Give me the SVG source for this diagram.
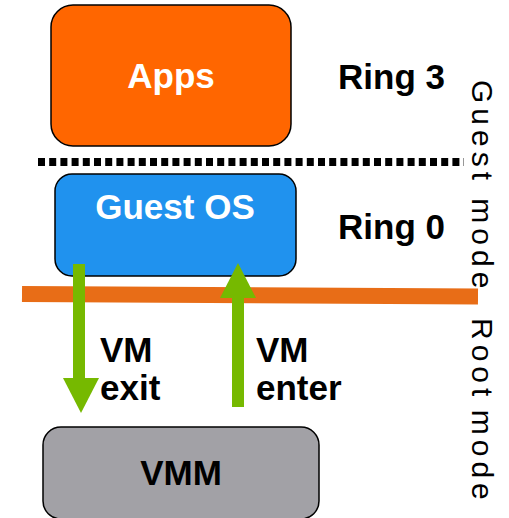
<svg xmlns="http://www.w3.org/2000/svg" width="509" height="518" viewBox="0 0 509 518">
  <style>
    .box { stroke: #000; stroke-width: 1.5; }
    .lbl { font-family: "Liberation Sans", Arial, sans-serif; font-weight: bold; font-size: 35px; }
    .white { fill: #fff; }
    .black { fill: #000; }
    .side { font-family: "Liberation Sans", Arial, sans-serif; font-size: 30px; letter-spacing: 5px; fill: #000; }
    .green { fill: #76B900; }
  </style>
  <rect width="509" height="518" fill="#fff"/>

  <g id="apps">
    <rect class="box" x="51" y="5" width="240" height="141" rx="22" fill="#FF6600"/>
    <text class="lbl white" x="171" y="88" text-anchor="middle">Apps</text>
  </g>

  <g id="guest-os">
    <rect class="box" x="55" y="174" width="241" height="102" rx="17" fill="#2092EE"/>
    <text class="lbl white" x="175" y="219" text-anchor="middle">Guest OS</text>
  </g>

  <g id="vmm">
    <rect class="box" x="43" y="427" width="276" height="92" rx="18" fill="#A2A1A6"/>
    <text class="lbl black" x="181" y="485" text-anchor="middle">VMM</text>
  </g>

  <g id="separators">
    <line x1="38" y1="162" x2="464" y2="162" stroke="#000" stroke-width="8" stroke-dasharray="7 4.2"/>
    <line x1="22" y1="294" x2="478" y2="296.5" stroke="#E86D17" stroke-width="16"/>
  </g>

  <g id="connectors">
    <g id="vm-exit">
      <rect class="green" x="73" y="264" width="12" height="116"/>
      <polygon class="green" points="63,378 99,378 81,413"/>
    </g>
    <g id="vm-enter">
      <rect class="green" x="232" y="296" width="12" height="111"/>
      <polygon class="green" points="220,298 256,298 238,263"/>
    </g>
  </g>

  <g id="labels">
    <text class="lbl black" x="338" y="89">Ring 3</text>
    <text class="lbl black" x="338" y="239">Ring 0</text>
    <text class="lbl black" x="100" y="362">VM</text>
    <text class="lbl black" x="100" y="400">exit</text>
    <text class="lbl black" x="256" y="362">VM</text>
    <text class="lbl black" x="256" y="400">enter</text>
    <text class="side" transform="translate(472,80) rotate(90)">Guest mode</text>
    <text class="side" transform="translate(472,318) rotate(90)" word-spacing="-5">Root mode</text>
  </g>
</svg>
